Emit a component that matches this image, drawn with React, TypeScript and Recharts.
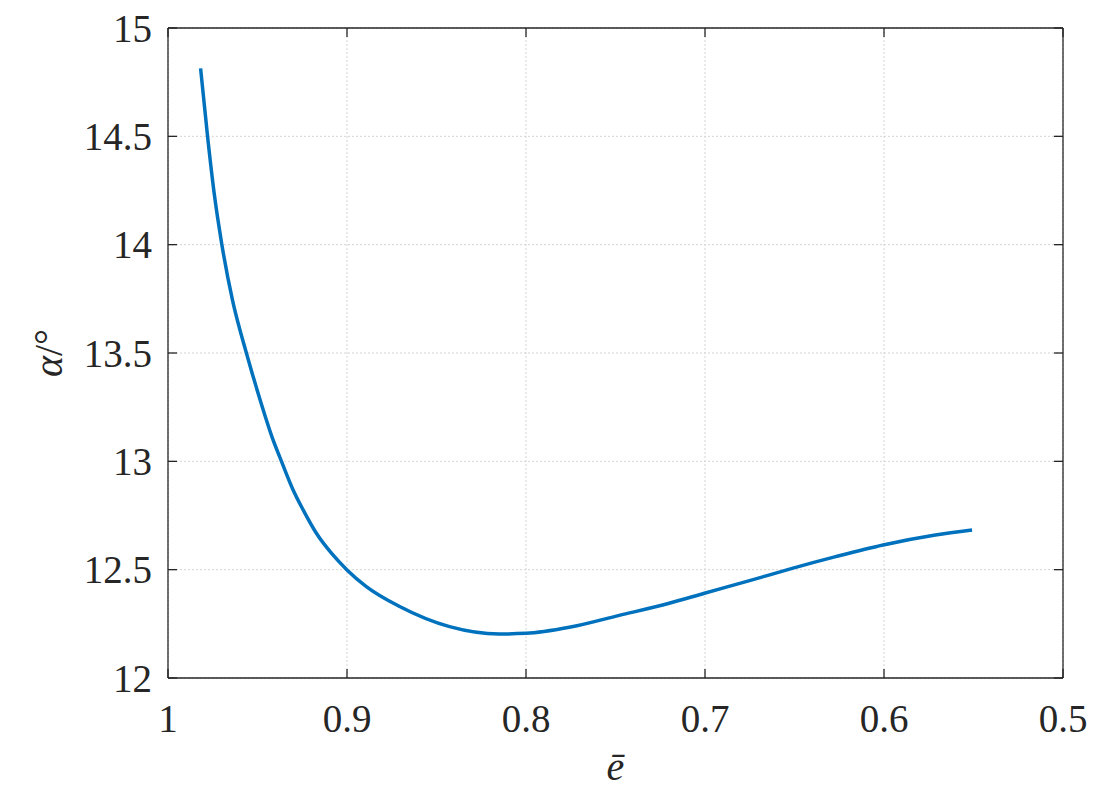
import { LineChart, Line, XAxis, YAxis, CartesianGrid, ReferenceLine } from 'recharts';

// normalised eccentricity (x) and angle alpha in degrees (y)
const eBar = [
  0.9818, 0.9779, 0.9742, 0.9699, 0.964, 0.9562, 0.9484, 0.9413, 0.9366, 0.9301,
  0.9245, 0.9171, 0.9087, 0.9, 0.8892, 0.8706, 0.8427, 0.815, 0.8, 0.7758,
  0.7479, 0.72, 0.7003, 0.6736, 0.6513, 0.627, 0.6005, 0.5713, 0.5508,
];
const alphaDeg = [
  14.814, 14.5, 14.237, 14.0, 13.745, 13.5, 13.28, 13.099, 13.0, 12.868,
  12.776, 12.668, 12.576, 12.499, 12.422, 12.33, 12.237, 12.203, 12.206, 12.234,
  12.289, 12.345, 12.391, 12.453, 12.506, 12.56, 12.614, 12.66, 12.683,
];

const xTicks = [1, 0.9, 0.8, 0.7, 0.6, 0.5];
const yTicks = [12, 12.5, 13, 13.5, 14, 14.5, 15];

const data = eBar.map((e, i) => ({ e, alpha: alphaDeg[i] }));

const W = 1099;
const H = 795;
const PLOT_LEFT = 168;
const PLOT_RIGHT = 1063;
const PLOT_TOP = 28;
const PLOT_BOTTOM = 678;
const TICK_LEN = 9;
const AXIS_COLOR = '#262626';
const FONT = "'Times New Roman', Times, 'Liberation Serif', Tinos, 'Noto Serif', 'DejaVu Serif', serif";
const textStyle = { fontFamily: FONT, fontSize: 39, fill: AXIS_COLOR };

const XTick = ({ x, payload }: any) => (
  <g>
    <line x1={x} x2={x} y1={PLOT_BOTTOM} y2={PLOT_BOTTOM - TICK_LEN} stroke={AXIS_COLOR} strokeWidth={1.3} />
    <line x1={x} x2={x} y1={PLOT_TOP} y2={PLOT_TOP + TICK_LEN} stroke={AXIS_COLOR} strokeWidth={1.3} />
    <text x={x} y={PLOT_BOTTOM + 54} textAnchor="middle" style={textStyle}>
      {String(payload.value)}
    </text>
  </g>
);

const YTick = ({ y, payload }: any) => (
  <g>
    <line x1={PLOT_LEFT} x2={PLOT_LEFT + TICK_LEN} y1={y} y2={y} stroke={AXIS_COLOR} strokeWidth={1.3} />
    <line x1={PLOT_RIGHT} x2={PLOT_RIGHT - TICK_LEN} y1={y} y2={y} stroke={AXIS_COLOR} strokeWidth={1.3} />
    <text x={PLOT_LEFT - 16} y={y} dy="0.35em" textAnchor="end" style={textStyle}>
      {String(payload.value)}
    </text>
  </g>
);

export default function App() {
  const cy = (PLOT_TOP + PLOT_BOTTOM) / 2;
  return (
    <div style={{ position: 'absolute', left: 0, top: 0, width: W, height: H, background: '#fff' }}>
      <LineChart
        width={W}
        height={H}
        data={data}
        margin={{ top: PLOT_TOP, right: W - PLOT_RIGHT, bottom: 0, left: 0 }}
      >
        <CartesianGrid stroke="#d4d4d4" strokeDasharray="2 2" strokeWidth={1} />
        <XAxis
          dataKey="e"
          type="number"
          domain={[0.5, 1]}
          reversed
          ticks={xTicks}
          interval={0}
          height={H - PLOT_BOTTOM}
          axisLine={{ stroke: AXIS_COLOR, strokeWidth: 1.3 }}
          tickLine={false}
          tick={<XTick />}
          allowDataOverflow
        />
        <YAxis
          type="number"
          domain={[12, 15]}
          ticks={yTicks}
          interval={0}
          width={PLOT_LEFT}
          axisLine={{ stroke: AXIS_COLOR, strokeWidth: 1.3 }}
          tickLine={false}
          tick={<YTick />}
          allowDataOverflow
        />
        <ReferenceLine x={0.5} stroke={AXIS_COLOR} strokeWidth={1.3} />
        <ReferenceLine y={15} stroke={AXIS_COLOR} strokeWidth={1.3} />
        <Line
          dataKey="alpha"
          type="monotone"
          stroke="#0072BD"
          strokeWidth={3.5}
          dot={false}
          isAnimationActive={false}
        />
        <text x={(PLOT_LEFT + PLOT_RIGHT) / 2} y={780} textAnchor="middle" style={{ ...textStyle, fontSize: 40, fontStyle: 'italic' }}>
          ē
        </text>
        <text
          x={62}
          y={cy}
          transform={`rotate(-90, 62, ${cy})`}
          textAnchor="middle"
          style={{ ...textStyle, fontSize: 40 }}
        >
          <tspan style={{ fontStyle: 'italic' }}>α</tspan>
          <tspan>/°</tspan>
        </text>
      </LineChart>
    </div>
  );
}
